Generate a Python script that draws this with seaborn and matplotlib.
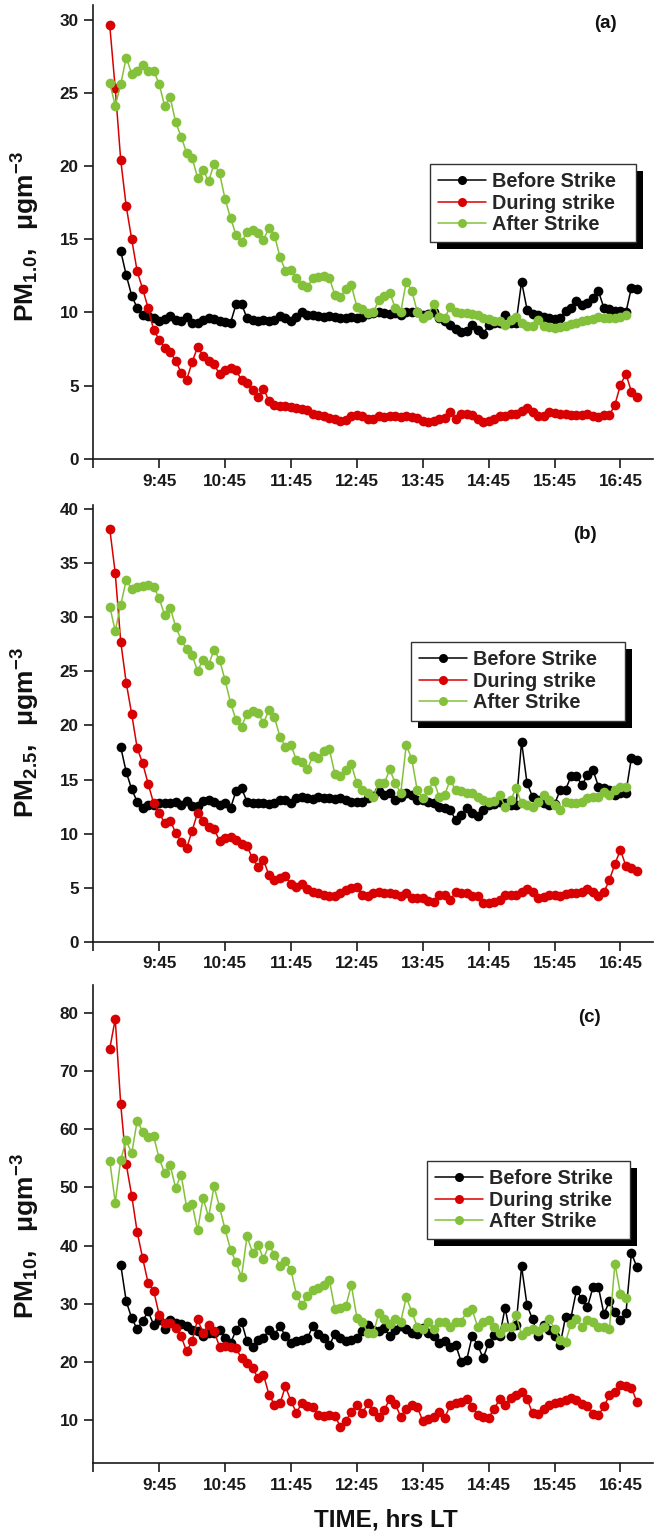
import numpy as np
import pandas as pd
import matplotlib
matplotlib.use("Agg")
import matplotlib.pyplot as plt
from matplotlib.patches import Rectangle
from matplotlib.transforms import IdentityTransform
import seaborn as sns

# ---------------------------------------------------------------------------
# Particulate matter readings, one value every 5 minutes (µg m^-3)
# ---------------------------------------------------------------------------
STEP_MIN = 5
START_RED = "9:00"     # during strike
START_BLACK = "9:10"   # before strike
START_GREEN = "9:00"   # after strike

SERIES_NAMES = ["Before Strike", "During strike", "After Strike"]

# PM1.0
PM1_BEFORE = [
    14.2, 12.55, 11.15, 10.3, 9.8, 9.75, 9.6, 9.45, 9.55, 9.75, 9.5, 9.45,
    9.7, 9.25, 9.3, 9.5, 9.65, 9.55, 9.4, 9.35, 9.3, 10.55, 10.6, 9.6,
    9.5, 9.45, 9.5, 9.45, 9.5, 9.75, 9.6, 9.45, 9.7, 10.0, 9.85, 9.8,
    9.75, 9.7, 9.75, 9.7, 9.65, 9.6, 9.7, 9.65, 9.7, 9.9, 9.95, 10.0,
    9.95, 9.9, 9.95, 9.85, 10.05, 10.05, 10.0, 9.85, 9.9, 10.05, 9.6, 9.45,
    9.15, 8.9, 8.7, 8.75, 9.15, 8.8, 8.5, 9.15, 9.25, 9.3, 9.8, 9.25,
    9.3, 12.1, 10.2, 9.9, 9.8, 9.7, 9.6, 9.55, 9.6, 10.1, 10.3, 10.75,
    10.5, 10.65, 11.0, 11.45, 10.3, 10.25, 10.1, 10.1, 10.0, 11.7, 11.6,
]
PM1_DURING = [
    29.6, 25.3, 20.4, 17.25, 15.0, 12.8, 11.6, 10.3, 8.8, 8.15, 7.6, 7.3,
    6.7, 5.9, 5.4, 6.6, 7.65, 7.05, 6.7, 6.45, 5.8, 6.1, 6.2, 6.05,
    5.4, 5.2, 4.7, 4.25, 4.8, 3.95, 3.7, 3.6, 3.6, 3.55, 3.45, 3.4,
    3.35, 3.1, 3.0, 2.9, 2.8, 2.75, 2.6, 2.65, 2.9, 3.0, 2.95, 2.7,
    2.75, 2.9, 2.85, 2.9, 2.9, 2.85, 2.9, 2.85, 2.8, 2.6, 2.55, 2.6,
    2.7, 2.8, 3.2, 2.75, 3.05, 3.1, 3.0, 2.7, 2.55, 2.6, 2.75, 2.9,
    2.95, 3.05, 3.1, 3.25, 3.45, 3.2, 2.95, 2.9, 3.2, 3.15, 3.1, 3.05,
    3.0, 3.0, 3.0, 3.05, 2.95, 2.85, 3.0, 3.0, 3.7, 5.05, 5.8, 4.6,
    4.2,
]
PM1_AFTER = [
    25.7, 24.1, 25.6, 27.4, 26.3, 26.5, 26.9, 26.5, 26.5, 25.6, 24.1, 24.7,
    23.0, 22.0, 20.9, 20.55, 19.2, 19.75, 18.95, 20.15, 19.5, 17.75, 16.45, 15.3,
    14.8, 15.5, 15.65, 15.45, 14.95, 15.8, 15.25, 13.8, 12.85, 12.9, 12.35, 11.85,
    11.75, 12.35, 12.45, 12.5, 12.35, 11.2, 11.05, 11.6, 11.85, 10.4, 10.25, 9.95,
    10.0, 10.85, 11.1, 11.35, 10.3, 10.05, 12.1, 11.5, 10.05, 9.6, 9.85, 10.6,
    9.7, 9.6, 10.4, 10.0, 9.95, 9.95, 9.9, 9.85, 9.6, 9.55, 9.45, 9.4,
    9.15, 9.5, 9.7, 9.25, 9.1, 9.05, 9.5, 9.05, 9.0, 8.95, 9.0, 9.05,
    9.2, 9.3, 9.45, 9.5, 9.55, 9.7, 9.65, 9.6, 9.6, 9.7, 9.85,
]

# PM2.5
PM25_BEFORE = [
    18.0, 15.7, 14.1, 12.95, 12.35, 12.65, 12.65, 12.8, 12.85, 12.8, 12.95, 12.65,
    13.05, 12.55, 12.55, 13.05, 13.1, 12.95, 12.65, 12.85, 12.35, 13.95, 14.2, 12.95,
    12.8, 12.8, 12.85, 12.75, 12.85, 13.1, 13.1, 12.8, 13.3, 13.4, 13.3, 13.2,
    13.4, 13.3, 13.3, 13.2, 13.3, 13.1, 12.95, 12.9, 12.95, 13.25, 13.5, 13.9,
    13.6, 13.75, 13.1, 13.4, 13.75, 13.55, 13.1, 13.1, 12.9, 12.8, 12.5, 12.4,
    12.2, 11.25, 11.7, 12.35, 11.9, 11.6, 12.2, 12.6, 12.7, 12.95, 12.85, 12.6,
    12.6, 18.5, 14.65, 13.4, 13.1, 12.8, 12.6, 12.7, 14.0, 14.05, 15.3, 15.3,
    14.5, 15.4, 15.9, 14.35, 14.2, 14.05, 13.55, 13.75, 13.8, 17.0, 16.8,
]
PM25_DURING = [
    38.2, 34.1, 27.75, 23.95, 21.05, 17.9, 16.5, 14.6, 12.8, 11.95, 10.95, 11.2,
    10.1, 9.25, 8.65, 10.25, 11.95, 11.2, 10.65, 10.4, 9.35, 9.55, 9.65, 9.45,
    9.05, 8.85, 7.7, 6.95, 7.55, 6.15, 5.7, 5.9, 6.05, 5.3, 5.1, 5.3,
    4.9, 4.6, 4.5, 4.35, 4.2, 4.2, 4.5, 4.8, 5.0, 5.1, 4.3, 4.2,
    4.55, 4.6, 4.5, 4.5, 4.4, 4.2, 4.5, 4.05, 4.0, 4.0, 3.75, 3.7,
    4.3, 4.35, 3.85, 4.6, 4.55, 4.5, 4.2, 4.2, 3.6, 3.55, 3.7, 3.85,
    4.3, 4.3, 4.35, 4.6, 4.9, 4.6, 4.0, 4.1, 4.3, 4.3, 4.25, 4.45,
    4.5, 4.55, 4.6, 4.85, 4.6, 4.2, 4.6, 5.7, 7.2, 8.5, 7.0, 6.8,
    6.5,
]
PM25_AFTER = [
    31.0, 28.75, 31.15, 33.45, 32.6, 32.8, 32.9, 33.0, 32.85, 31.75, 30.2, 30.9,
    29.15, 27.95, 27.05, 26.5, 25.05, 26.1, 25.6, 27.0, 26.05, 24.2, 22.1, 20.5,
    19.9, 21.1, 21.35, 21.2, 20.2, 21.45, 20.75, 18.95, 18.05, 18.2, 16.8, 16.65,
    15.95, 17.2, 16.95, 17.65, 17.8, 15.5, 15.3, 15.9, 16.4, 14.65, 14.0, 13.75,
    13.4, 14.65, 14.65, 15.95, 14.65, 13.75, 18.2, 16.9, 14.0, 13.25, 14.0, 14.9,
    13.4, 13.55, 15.0, 14.0, 13.9, 13.8, 13.75, 13.4, 13.1, 12.95, 13.0, 13.55,
    12.5, 13.1, 14.2, 12.8, 12.6, 12.5, 12.95, 13.55, 13.1, 12.65, 12.2, 12.9,
    12.85, 12.8, 12.9, 13.25, 13.35, 13.4, 13.85, 13.6, 14.0, 14.35, 14.35,
]

# PM10
PM10_BEFORE = [
    36.7, 30.4, 27.5, 25.6, 27.05, 28.65, 26.35, 27.2, 25.6, 27.1, 26.65, 26.55,
    26.1, 25.5, 25.2, 24.35, 25.0, 24.9, 25.5, 24.05, 23.2, 25.4, 26.9, 23.5,
    22.6, 23.8, 24.05, 25.5, 24.65, 26.1, 24.4, 23.2, 23.6, 23.8, 24.1, 26.1,
    24.8, 24.1, 22.8, 24.8, 24.1, 23.5, 23.8, 24.1, 25.2, 26.4, 25.5, 25.2,
    25.8, 24.4, 25.5, 26.1, 25.6, 24.9, 24.8, 25.8, 25.0, 24.4, 23.2, 23.5,
    22.6, 22.9, 20.0, 20.3, 24.4, 22.9, 20.6, 23.2, 24.6, 24.4, 29.3, 24.4,
    26.4, 36.4, 29.7, 27.3, 24.4, 26.4, 25.5, 24.4, 22.8, 27.7, 27.6, 32.3,
    30.8, 29.4, 32.8, 32.8, 28.2, 30.4, 28.6, 27.1, 28.3, 38.7, 36.3,
]
PM10_DURING = [
    73.9, 79.0, 64.3, 54.0, 48.6, 42.3, 37.8, 33.5, 32.2, 28.1, 26.6, 26.6,
    25.8, 24.35, 21.8, 23.5, 27.3, 24.9, 26.4, 25.2, 22.6, 22.7, 22.6, 22.3,
    20.6, 19.75, 18.9, 17.2, 17.75, 14.3, 12.6, 12.8, 15.75, 13.2, 11.2, 12.9,
    12.3, 12.2, 10.9, 10.7, 10.9, 10.7, 8.8, 9.8, 11.3, 12.5, 11.1, 12.8,
    11.5, 10.4, 11.7, 13.6, 12.7, 10.5, 11.9, 12.5, 12.2, 9.8, 10.1, 10.5,
    11.3, 10.3, 12.5, 12.8, 13.1, 13.6, 12.2, 10.8, 10.4, 10.3, 11.9, 13.5,
    12.5, 13.8, 14.2, 14.8, 13.6, 11.1, 11.0, 11.9, 12.5, 12.8, 13.1, 13.4,
    13.8, 13.4, 12.7, 12.3, 11.0, 10.8, 12.3, 14.2, 14.8, 16.0, 15.8, 15.5,
    13.1,
]
PM10_AFTER = [
    54.6, 47.4, 54.8, 58.1, 55.9, 61.5, 59.6, 58.7, 58.8, 55.0, 52.5, 53.9,
    49.9, 52.2, 46.6, 47.2, 42.6, 48.2, 44.9, 50.2, 46.6, 42.8, 39.3, 37.1,
    34.6, 41.6, 38.8, 40.1, 37.7, 40.1, 38.4, 36.5, 37.3, 35.8, 31.5, 29.7,
    31.3, 32.4, 32.7, 33.2, 34.1, 29.0, 29.3, 29.6, 33.2, 27.6, 26.9, 24.9,
    24.9, 28.3, 27.4, 26.5, 27.4, 26.9, 31.1, 28.6, 26.0, 25.7, 26.9, 25.7,
    26.9, 26.9, 26.0, 26.9, 26.9, 28.6, 29.0, 26.0, 26.9, 27.1, 26.0, 24.9,
    26.0, 26.0, 28.0, 24.6, 25.2, 25.7, 25.2, 26.0, 27.3, 25.7, 23.7, 23.4,
    26.5, 27.4, 26.0, 27.1, 26.9, 26.0, 26.0, 25.7, 36.9, 31.7, 31.0,
]

X_TICK_LABELS = ["", "9:45", "10:45", "11:45", "12:45", "13:45", "14:45", "15:45", "16:45"]

COLORS = {"Before Strike": "#000000", "During strike": "#d80000", "After Strike": "#84c13a"}


def clock_to_hours(text):
    h, m = text.split(":")
    return int(h) + int(m) / 60.0


def time_axis(start, n):
    return clock_to_hours(start) + STEP_MIN / 60.0 * np.arange(n)


sns.set_style("ticks")
plt.rcParams["font.family"] = ["Liberation Sans", "DejaVu Sans"]
plt.rcParams["mathtext.fontset"] = "custom"
plt.rcParams["mathtext.rm"] = "Liberation Sans"
plt.rcParams["mathtext.bf"] = "Liberation Sans:bold"
plt.rcParams["mathtext.it"] = "Liberation Sans:italic"
plt.rcParams["axes.unicode_minus"] = True

panels = [
    dict(before=PM1_BEFORE, during=PM1_DURING, after=PM1_AFTER,
         rect=[0.1424, 0.7018, 0.8551, 0.2950], ylim=(0, 31.0), yticks=np.arange(0, 31, 5),
         ylabel=r"$\mathbf{PM_{1.0},\ \ \mu gm^{-3}}$", ylab_y=0.49,
         tag="(a)", tag_xy=(0.914, 0.958), leg_box=(0.601, 0.650, 0.368)),
    dict(before=PM25_BEFORE, during=PM25_DURING, after=PM25_AFTER,
         rect=[0.1424, 0.3881, 0.8551, 0.2838], ylim=(0, 40.4), yticks=np.arange(0, 41, 5),
         ylabel=r"$\mathbf{PM_{2.5},\ \ \mu gm^{-3}}$", ylab_y=0.48,
         tag="(b)", tag_xy=(0.878, 0.933), leg_box=(0.567, 0.686, 0.382)),
    dict(before=PM10_BEFORE, during=PM10_DURING, after=PM10_AFTER,
         rect=[0.1424, 0.0492, 0.8551, 0.3105], ylim=(2.5, 84.8), yticks=np.arange(10, 81, 10),
         ylabel=r"$\mathbf{PM_{10},\ \ \mu gm^{-3}}$", ylab_y=0.475,
         tag="(c)", tag_xy=(0.885, 0.933), leg_box=(0.596, 0.633, 0.3625)),
]

fig = plt.figure(figsize=(6.55, 15.39), dpi=100)
fig.patch.set_facecolor("white")

legends = []
for k, p in enumerate(panels):
    ax = fig.add_axes(p["rect"])
    ax.set_facecolor("white")
    for name, vals, start in [("Before Strike", p["before"], START_BLACK),
                              ("During strike", p["during"], START_RED),
                              ("After Strike", p["after"], START_GREEN)]:
        df = pd.DataFrame({"time": time_axis(start, len(vals)), "value": vals})
        sns.lineplot(data=df, x="time", y="value", ax=ax, color=COLORS[name],
                     marker="o", markersize=7.0, markeredgewidth=0,
                     linewidth=1.1, label=name, errorbar=None, sort=False)

    ax.set_xlim(8.75, 17.25)
    ax.set_ylim(*p["ylim"])
    xt = np.arange(8.75, 16.80, 1.0)
    ax.set_xticks(xt)
    ax.set_xticklabels(X_TICK_LABELS)
    ax.set_yticks(p["yticks"])
    ax.set_yticklabels([f"{int(v)}" for v in p["yticks"]])
    ax.tick_params(axis="both", direction="out", length=6.5, width=1.2,
                   labelsize=12.3, pad=4.0, color="#1a1a1a", labelcolor="#1a1a1a")
    for lbl in ax.get_xticklabels() + ax.get_yticklabels():
        lbl.set_fontweight("bold")
    for side in ("top", "right"):
        ax.spines[side].set_visible(False)
    for side in ("left", "bottom"):
        ax.spines[side].set_linewidth(1.2)
        ax.spines[side].set_color("#1a1a1a")

    ax.set_ylabel(p["ylabel"], fontsize=19, color="#111111")
    ax.yaxis.set_label_coords(-0.092, p["ylab_y"])
    if k == 2:
        ax.set_xlabel("TIME, hrs LT", fontsize=17.5, fontweight="bold", color="#111111")
        ax.xaxis.set_label_coords(0.522, -0.094)
    else:
        ax.set_xlabel("")

    ax.text(p["tag_xy"][0], p["tag_xy"][1], p["tag"], transform=ax.transAxes,
            ha="center", va="center", fontsize=13.5, fontweight="bold", color="#111111")

    lx, ly, lw = p["leg_box"]
    leg = ax.legend(loc="upper left", bbox_to_anchor=(lx, ly - 0.3, lw, 0.3),
                    mode="expand", borderaxespad=0,
                    frameon=True, fancybox=False, framealpha=1, edgecolor="#333333",
                    prop={"weight": "bold", "size": 14.3}, handlelength=2.4,
                    handletextpad=0.3, labelspacing=0.12, borderpad=0.42, numpoints=1)
    leg.get_frame().set_linewidth(1.0)
    for h in leg.legend_handles:
        h.set_markersize(6.5)
    legends.append((ax, leg))

# Solid drop shadow behind each legend box
fig.canvas.draw()
for ax, leg in legends:
    bb = leg.get_window_extent()
    shadow = Rectangle((bb.x0 + 7, bb.y0 - 7), bb.width, bb.height,
                       transform=IdentityTransform(), facecolor="black",
                       edgecolor="none", zorder=leg.get_zorder() - 0.1, clip_on=False)
    ax.add_artist(shadow)

fig.savefig("out.png", dpi=100)
